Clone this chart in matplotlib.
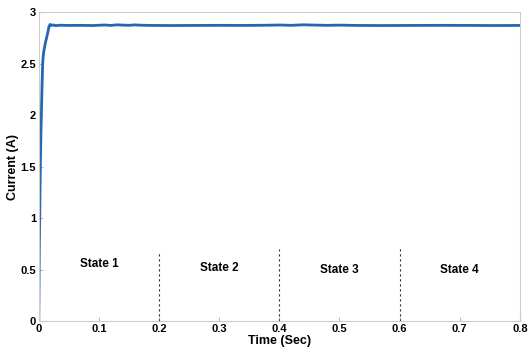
import matplotlib
matplotlib.use("Agg")
import matplotlib.pyplot as plt

plt.rcParams['font.family'] = ['Liberation Sans', 'DejaVu Sans']
plt.rcParams['font.weight'] = 'bold'

# measured inductor current (A) vs time (s)
t = [0.0, 0.0005, 0.001, 0.0017, 0.0025, 0.0035, 0.0045, 0.0055, 0.0065, 0.0075,
     0.009, 0.011, 0.013, 0.015, 0.017, 0.019, 0.021, 0.024, 0.028, 0.035,
     0.05, 0.07, 0.09, 0.1, 0.11, 0.12, 0.13, 0.14, 0.15, 0.16, 0.17,
     0.19, 0.22, 0.26, 0.3, 0.34, 0.38, 0.4, 0.42, 0.44, 0.46, 0.48,
     0.5, 0.53, 0.57, 0.62, 0.67, 0.72, 0.76, 0.8]
current = [0.0, 0.35, 0.75, 1.05, 1.45, 1.8, 2.05, 2.3, 2.5, 2.58,
           2.64, 2.7, 2.75, 2.8, 2.86, 2.88, 2.87, 2.875, 2.868, 2.872,
           2.87, 2.871, 2.869, 2.872, 2.874, 2.87, 2.876, 2.873, 2.871, 2.875, 2.872,
           2.87, 2.869, 2.87, 2.871, 2.87, 2.872, 2.874, 2.871, 2.876, 2.873, 2.871,
           2.873, 2.87, 2.869, 2.87, 2.871, 2.87, 2.869, 2.87]

state_bounds = [0.2, 0.4, 0.6]
bound_tops = [0.68, 0.70, 0.73]
state_labels = ['State 1', 'State 2', 'State 3', 'State 4']
state_x = [0.1, 0.3, 0.5, 0.7]
state_y = [0.55, 0.52, 0.50, 0.50]

fig = plt.figure(figsize=(5.31, 3.54), dpi=100)
ax = fig.add_axes([0.073, 0.093, 0.906, 0.873])

ax.plot(t, current, color='#2466b0', linewidth=2.0, solid_joinstyle='round')

for xb, top in zip(state_bounds, bound_tops):
    ax.plot([xb, xb], [0, top], color='#333333', linestyle=(0, (2, 2.5)), linewidth=0.8)

for lab, xs, ys in zip(state_labels, state_x, state_y):
    ax.text(xs, ys, lab, ha='center', va='center', fontsize=8.5, fontweight='bold')

ax.set_xlim(0, 0.8)
ax.set_ylim(0, 3)
ax.set_xticks([0, 0.1, 0.2, 0.3, 0.4, 0.5, 0.6, 0.7, 0.8])
ax.set_xticklabels(['0', '0.1', '0.2', '0.3', '0.4', '0.5', '0.6', '0.7', '0.8'])
ax.set_yticks([0, 0.5, 1, 1.5, 2, 2.5, 3])
ax.set_yticklabels(['0', '0.5', '1', '1.5', '2', '2.5', '3'])
ax.tick_params(labelsize=8, direction='in', length=3, color='#bbbbbb', pad=2)
for s in ax.spines.values():
    s.set_color('#cccccc')
    s.set_linewidth(0.8)

ax.set_xlabel('Time (Sec)', fontsize=9, fontweight='bold', labelpad=1)
ax.set_ylabel('Current (A)', fontsize=9, fontweight='bold', labelpad=1)

fig.savefig('out.png', dpi=100)
